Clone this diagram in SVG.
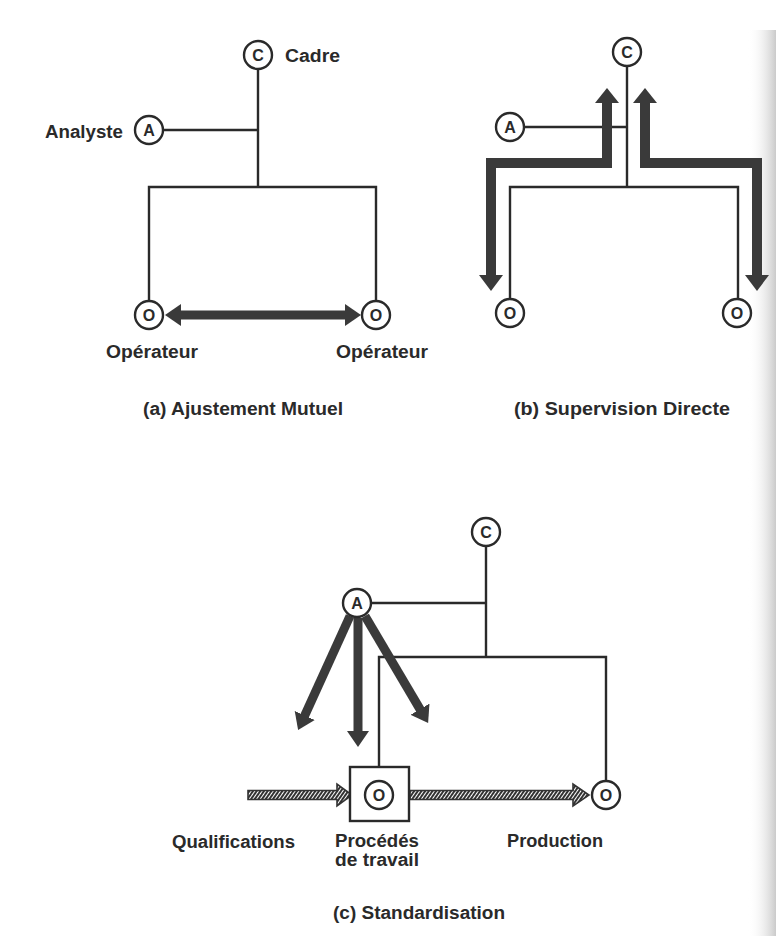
<svg xmlns="http://www.w3.org/2000/svg" width="776" height="936" viewBox="0 0 776 936">
<defs>
<style>
.ln{fill:none;stroke:#2a2a2a;stroke-width:2.4}
.nd circle{fill:#fff;stroke:#2a2a2a;stroke-width:2.4}
.nd text{font-family:"Liberation Sans",Arial,sans-serif;font-size:16px;font-weight:bold;fill:#2a2a2a;text-anchor:middle}
.lb{font-family:"Liberation Sans",Arial,sans-serif;font-size:18px;font-weight:bold;fill:#2a2a2a}
.thick{fill:none;stroke:#3a3a3a;stroke-width:10;stroke-linejoin:miter}
.hd{fill:#3a3a3a}
.hatch{fill:url(#hatch);stroke:#333;stroke-width:1.6;stroke-linejoin:miter}
</style>
<pattern id="hatch" width="3" height="3" patternUnits="userSpaceOnUse" patternTransform="rotate(35)">
<rect width="3" height="3" fill="#fff"/>
<rect width="2" height="3" fill="#333"/>
</pattern>
<marker id="ah" viewBox="0 0 16 22" markerUnits="userSpaceOnUse" markerWidth="16" markerHeight="22" refX="2" refY="11" orient="auto-start-reverse">
<path d="M0,0 L16,11 L0,22 z" fill="#3a3a3a"/>
</marker>
<linearGradient id="edge" x1="0" x2="1" y1="0" y2="0">
<stop offset="0" stop-color="#fff" stop-opacity="0"/>
<stop offset="1" stop-color="#bdbdbd" stop-opacity="0.8"/>
</linearGradient>
</defs>
<rect width="776" height="936" fill="#fff"/>
<rect x="748" y="30" width="28" height="906" fill="url(#edge)"/>

<g id="connectors">
<!-- (a) -->
<path class="ln" d="M258,69 V187 M163,130 H258 M149,301 V187 H376 V301"/>
<line x1="179" y1="315" x2="347" y2="315" stroke="#3a3a3a" stroke-width="9" marker-start="url(#ah)" marker-end="url(#ah)"/>
<!-- (b) -->
<path class="ln" d="M627,66 V187 M524,127 H627 M510,299 V187 H738 V299"/>
<path class="thick" d="M607,102 V163 H491 V276"/>
<polygon class="hd" points="607,88 595,103 619,103"/>
<polygon class="hd" points="491,291 479,275 503,275"/>
<path class="thick" d="M645,102 V163 H757 V276"/>
<polygon class="hd" points="645,88 633,103 657,103"/>
<polygon class="hd" points="757,291 745,275 769,275"/>
<!-- (c) -->
<path class="ln" d="M486,546 V657 M371,603 H486 M379,781 V657 H606 V781"/>
<line x1="350" y1="616" x2="303.9" y2="717.3" stroke="#3a3a3a" stroke-width="9" marker-end="url(#ah)"/>
<line x1="358" y1="618" x2="358" y2="733" stroke="#3a3a3a" stroke-width="9" marker-end="url(#ah)"/>
<line x1="365" y1="616" x2="421" y2="710.9" stroke="#3a3a3a" stroke-width="9" marker-end="url(#ah)"/>
<polygon class="hatch" points="248,790.5 337,790.5 337,784 352,795 337,806 337,799.5 248,799.5"/>
<polygon class="hatch" points="410,790.5 573,790.5 573,784 589,795 573,806 573,799.5 410,799.5"/>
</g>

<g id="a-cadre" class="nd"><circle cx="258" cy="55" r="14"/><text x="258" y="60.5">C</text></g>
<g id="a-analyste" class="nd"><circle cx="149" cy="130" r="14"/><text x="149" y="135.5">A</text></g>
<g id="a-op1" class="nd"><circle cx="149" cy="315" r="14"/><text x="149" y="320.5">O</text></g>
<g id="a-op2" class="nd"><circle cx="376" cy="315" r="14"/><text x="376" y="320.5">O</text></g>

<g id="b-cadre" class="nd"><circle cx="627" cy="52" r="14"/><text x="627" y="57.5">C</text></g>
<g id="b-analyste" class="nd"><circle cx="510" cy="127" r="14"/><text x="510" y="132.5">A</text></g>
<g id="b-op1" class="nd"><circle cx="510" cy="313" r="14"/><text x="510" y="318.5">O</text></g>
<g id="b-op2" class="nd"><circle cx="737" cy="313" r="14"/><text x="737" y="318.5">O</text></g>

<g id="c-cadre" class="nd"><circle cx="486" cy="532" r="14"/><text x="486" y="537.5">C</text></g>
<g id="c-analyste" class="nd"><circle cx="357" cy="603" r="14"/><text x="357" y="608.5">A</text></g>
<g id="c-op1" class="nd"><rect x="350" y="767" width="59" height="54" fill="#fff" stroke="#2a2a2a" stroke-width="2.4"/><circle cx="379" cy="795" r="14"/><text x="379" y="800.5">O</text></g>
<g id="c-op2" class="nd"><circle cx="606" cy="795" r="14"/><text x="606" y="800.5">O</text></g>

<g id="labels">
<text class="lb" x="285" y="62" textLength="55" lengthAdjust="spacingAndGlyphs">Cadre</text>
<text class="lb" x="45" y="138" textLength="78" lengthAdjust="spacingAndGlyphs">Analyste</text>
<text class="lb" x="106" y="358" textLength="92" lengthAdjust="spacingAndGlyphs">Opérateur</text>
<text class="lb" x="336" y="358" textLength="92" lengthAdjust="spacingAndGlyphs">Opérateur</text>
<text class="lb" x="143" y="415" textLength="200" lengthAdjust="spacingAndGlyphs">(a) Ajustement Mutuel</text>
<text class="lb" x="514" y="415" textLength="216" lengthAdjust="spacingAndGlyphs">(b) Supervision Directe</text>
<text class="lb" x="172" y="848" textLength="123" lengthAdjust="spacingAndGlyphs">Qualifications</text>
<text class="lb" x="335" y="847" textLength="84" lengthAdjust="spacingAndGlyphs">Procédés</text>
<text class="lb" x="335" y="866" textLength="84" lengthAdjust="spacingAndGlyphs">de travail</text>
<text class="lb" x="507" y="847" textLength="96" lengthAdjust="spacingAndGlyphs">Production</text>
<text class="lb" x="333" y="919" textLength="172" lengthAdjust="spacingAndGlyphs">(c) Standardisation</text>
</g>
</svg>
